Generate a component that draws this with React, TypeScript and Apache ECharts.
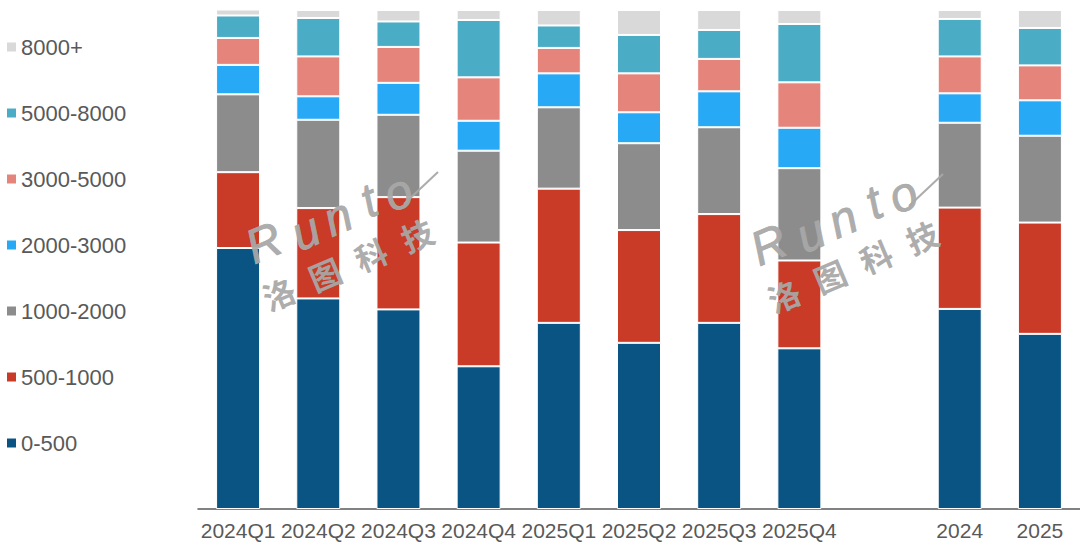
import React, { useEffect, useRef } from "react";
import * as echarts from "echarts";

const categories = ["2024Q1", "2024Q2", "2024Q3", "2024Q4", "2025Q1", "2025Q2", "2025Q3", "2025Q4", "", "2024", "2025"];
const seriesNames = ["0-500", "500-1000", "1000-2000", "2000-3000", "3000-5000", "5000-8000", "8000+"];
const colors = ["#0A5483", "#C93A27", "#8C8C8C", "#27A9F6", "#E5847B", "#4BACC6", "#D9D9D9"];

// share (%) of each price band per period; the empty category is a spacer
const v0_500 = [52.3, 42.2, 40.0, 28.6, 37.3, 33.3, 37.3, 32.2, null, 40.1, 35.1];
const v500_1000 = [15.2, 18.1, 22.5, 24.8, 26.9, 22.6, 21.8, 17.6, null, 20.3, 22.3];
const v1000_2000 = [15.6, 17.7, 16.5, 18.4, 16.3, 17.4, 17.4, 18.5, null, 17.0, 17.4];
const v2000_3000 = [5.9, 4.7, 6.4, 6.0, 6.8, 6.2, 7.2, 8.1, null, 5.9, 7.1];
const v3000_5000 = [5.4, 8.0, 7.2, 8.7, 5.1, 7.8, 6.5, 9.1, null, 7.4, 7.0];
const v5000_8000 = [4.5, 7.7, 5.1, 11.5, 4.5, 7.7, 5.8, 11.7, null, 7.5, 7.5];
const v8000plus = [1.2, 1.6, 2.3, 2.0, 3.1, 5.0, 4.0, 2.8, null, 1.8, 3.6];

const seriesValues = [v0_500, v500_1000, v1000_2000, v2000_3000, v3000_5000, v5000_8000, v8000plus];

const wmColor = "rgba(168,168,168,0.95)";

function watermark(ox: number, oy: number) {
  const letters = [
    { t: "R", x: 20, y: -17 },
    { t: "u", x: 63, y: -11 },
    { t: "n", x: 98, y: -12 },
    { t: "t", x: 133, y: -15 },
    { t: "o", x: 163, y: -11 },
  ];
  const cjk = ["洛", "图", "科", "技"];
  const children: any[] = [];
  letters.forEach((l) => {
    children.push({
      type: "text",
      x: l.x,
      y: l.y,
      z: 100,
      style: {
        text: l.t,
        fontSize: 48,
        fontStyle: "italic",
        fontFamily: "Liberation Sans, Arial, sans-serif",
        fill: wmColor,
        stroke: wmColor,
        lineWidth: 0.8,
        align: "center",
        verticalAlign: "middle",
      },
    });
  });
  cjk.forEach((c, i) => {
    children.push({
      type: "text",
      x: 14 + i * 50,
      y: 35,
      z: 100,
      style: {
        text: c,
        fontSize: 32,
        fontWeight: "bold",
        fontFamily: "Noto Sans CJK SC, sans-serif",
        fill: wmColor,
        align: "center",
        verticalAlign: "middle",
      },
    });
  });
  return [
    {
      type: "group",
      x: ox,
      y: oy,
      rotation: 0.4,
      z: 100,
      silent: true,
      children,
    },
    {
      type: "line",
      z: 100,
      silent: true,
      shape: { x1: ox + 152, y1: oy - 62, x2: ox + 186, y2: oy - 94 },
      style: { stroke: wmColor, lineWidth: 2 },
    },
  ];
}

export default function App() {
  const ref = useRef<HTMLDivElement>(null);
  useEffect(() => {
    if (!ref.current) return;
    const chart = echarts.init(ref.current, null, { renderer: "svg" });
    chart.setOption({
      animation: false,
      backgroundColor: "#ffffff",
      grid: { left: 198, right: 0, top: 10, bottom: 38, containLabel: false },
      legend: {
        orient: "vertical",
        left: 7,
        top: 35,
        padding: 0,
        itemWidth: 9,
        itemHeight: 9,
        itemGap: 42,
        icon: "rect",
        data: [...seriesNames].reverse(),
        itemStyle: { borderWidth: 0 },
        textStyle: {
          fontSize: 22,
          lineHeight: 24,
          color: "#595959",
          fontFamily: "Liberation Sans, Arial, sans-serif",
        },
      },
      xAxis: {
        type: "category",
        data: categories,
        axisTick: { show: false },
        axisLine: { lineStyle: { color: "#595959", width: 1.5 } },
        axisLabel: {
          color: "#595959",
          fontSize: 21,
          margin: 11,
          interval: 0,
          fontFamily: "Liberation Sans, Arial, sans-serif",
        },
      },
      yAxis: { type: "value", min: 0, max: 100, show: false, splitLine: { show: false } },
      graphic: { elements: [...watermark(252, 266), ...watermark(757, 268)] },
      series: seriesNames.map((name, i) => ({
        name,
        type: "bar",
        stack: "total",
        barWidth: 44,
        data: seriesValues[i],
        itemStyle: { color: colors[i], borderColor: "#ffffff", borderWidth: 1 },
      })),
    });
    return () => chart.dispose();
  }, []);
  return (
    <div
      ref={ref}
      style={{ width: 1080, height: 547, position: "fixed", left: 0, top: 0 }}
    />
  );
}
